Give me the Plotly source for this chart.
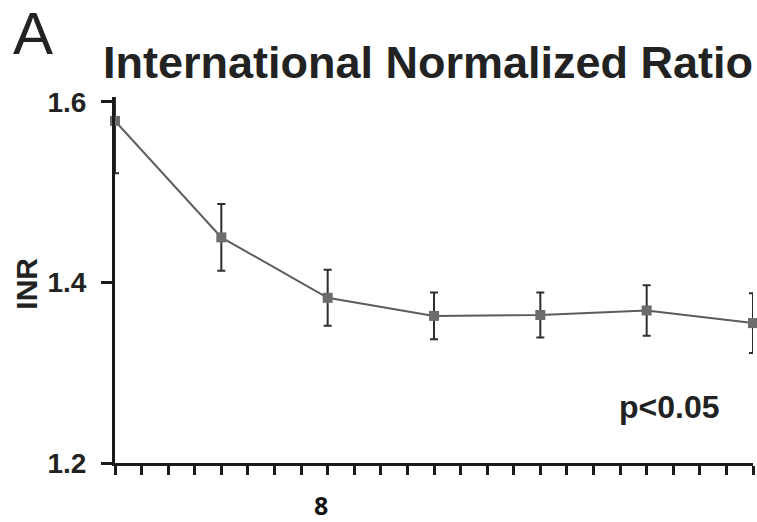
import plotly.graph_objects as go

# ---- data ----
weeks = [0, 4, 8, 12, 16, 20, 24]
inr_mean = [1.579, 1.450, 1.383, 1.363, 1.364, 1.369, 1.355]
inr_err = [0.058, 0.037, 0.031, 0.026, 0.025, 0.028, 0.033]
x_ticks = list(range(0, 25))
x_label_vals = [8]
x_label_text = ["8"]
y_ticks = [1.2, 1.4, 1.6]
y_tick_text = ["1.2", "1.4", "1.6"]

W, H = 757, 522
L, R, T, B = 114.5, 3.5, 97, 59
pw, ph = W - L - R, H - T - B

def px(x):
    return (x - L) / pw

def py(y):
    return (H - B - y) / ph

fig = go.Figure()
# error bars (clipped to plot area)
fig.add_trace(go.Scatter(
    x=weeks, y=inr_mean, mode="markers",
    marker=dict(size=1, color="rgba(0,0,0,0)"),
    error_y=dict(type="data", array=inr_err, visible=True,
                 color="#2e2e2e", thickness=2, width=4),
    cliponaxis=True, showlegend=False, hoverinfo="skip"))
# line + markers
fig.add_trace(go.Scatter(
    x=weeks, y=inr_mean, mode="lines+markers",
    line=dict(color="#5c5c5c", width=2),
    marker=dict(symbol="square", size=10, color="#6c6c6c"),
    cliponaxis=False, showlegend=False))

fig.update_xaxes(
    range=[0, 24], tickvals=x_ticks, showticklabels=False,
    ticks="outside", ticklen=9, tickwidth=3, tickcolor="#1a1a1a",
    showline=True, linewidth=3, linecolor="#1a1a1a",
    showgrid=False, zeroline=False)
fig.update_yaxes(
    range=[1.2, 1.6055], tickvals=y_ticks, ticktext=y_tick_text,
    ticks="outside", ticklen=11, tickwidth=3, tickcolor="#1a1a1a",
    ticklabelstandoff=9,
    tickfont=dict(family="Liberation Sans", size=28, color="#222", weight="bold"),
    showline=True, linewidth=3, linecolor="#1a1a1a",
    showgrid=False, zeroline=False)

ann = [
    dict(text="A", x=px(32), y=py(34), font=dict(family="Liberation Sans", size=60, color="#222")),
    dict(text="International Normalized Ratio", x=px(428), y=py(62),
         font=dict(family="Liberation Sans", size=45, color="#222", weight="bold")),
    dict(text="INR", x=px(25), y=py(284), textangle=-90,
         font=dict(family="Liberation Sans", size=30, color="#222", weight="bold")),
    dict(text="p<0.05", x=px(670), y=py(407),
         font=dict(family="Liberation Sans", size=32, color="#222", weight="bold")),
]
for a in ann:
    a.update(xref="paper", yref="paper", showarrow=False, xanchor="center", yanchor="middle")
    fig.add_annotation(**a)

for v, t in zip(x_label_vals, x_label_text):
    fig.add_annotation(text=t, x=v, y=py(505), xref="x", yref="paper", xshift=-7,
                       showarrow=False, xanchor="center", yanchor="middle",
                       font=dict(family="Open Sans", size=25, color="#111", weight="bold"))

fig.update_layout(
    width=W, height=H, margin=dict(l=L, r=R, t=T, b=B),
    paper_bgcolor="white", plot_bgcolor="white")

fig.write_html("out.html")
